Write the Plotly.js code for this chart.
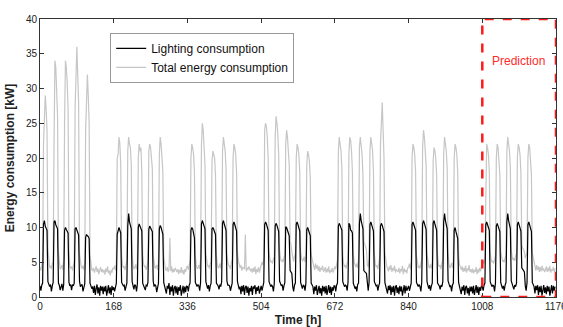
<!DOCTYPE html>
<html>
<head>
<meta charset="utf-8">
<script src="https://cdn.plot.ly/plotly-3.0.1.min.js"></script>
<style>html,body{margin:0;padding:0;background:#fff;overflow:hidden;}#chart{width:563px;height:327px;}</style>
</head>
<body>
<div id="chart"></div>
<script>
// Sampling step of the series (hours between consecutive values)
const HOURS_PER_SAMPLE = 2;

// Total energy consumption [kW], one array per week (7 days x 12 samples)
const totalW1 = [
4.3,3.8,4.6,5.2,22,26,29,27,24,7,4.8,4.2,
4.5,4.0,4.8,5.0,22,34,33,30,26,6.5,4.6,4.0,
4.2,4.6,3.9,5.4,25,34,33,31,27,6.8,4.4,4.1,
4.4,3.8,4.5,5.1,27,33,36,32,28,6.2,4.7,4.3,
4.1,4.5,3.9,5.0,24,30,32,29,25,6.0,4.5,3.9,
3.8,4.2,3.5,3.9,4.4,3.6,4.1,3.3,3.9,4.3,3.6,4.0,
3.5,3.9,3.2,4.1,3.6,4.4,3.4,3.8,3.1,3.9,3.5,4.2];
const totalW2 = [
4.0,4.5,3.8,5.0,20,20.5,23,22,19,6.0,4.6,4.2,
4.4,3.9,4.6,5.2,21,23,22,21.5,19,6.3,4.5,4.0,
4.2,4.7,4.0,5.0,20,22,21,21.5,18,6.1,4.8,4.3,
4.5,3.9,4.4,5.3,21,22,21.5,20,18.5,6.0,4.4,4.1,
4.3,4.6,3.9,5.1,20.5,23,22,20.5,18,5.8,4.7,4.0,
3.8,4.3,3.6,4.0,8.5,3.7,4.4,3.5,4.0,3.6,4.2,3.7,
3.6,4.0,3.3,3.9,3.5,4.3,3.4,3.9,3.2,4.0,3.6,4.3];
const totalW3 = [
4.4,3.9,4.7,5.2,20,22,21.5,20.5,18,6.0,4.6,4.1,
4.2,4.6,4.0,5.4,22,25,24,22,19,6.2,4.9,4.4,
4.6,4.1,4.8,5.0,19.5,21,20.5,20,17.5,6.1,4.7,4.2,
4.3,4.8,4.1,5.3,21,23,22,21,18.5,6.3,5.0,4.5,
4.5,4.0,4.9,5.4,20,22,21.5,20.5,18,6.4,5.2,4.6,
4.2,4.6,3.8,4.3,4.1,4.0,9.0,3.7,4.2,3.9,4.4,3.8,
3.7,4.1,3.5,4.2,3.6,4.4,3.3,4.0,3.6,4.3,3.5,4.1];
const totalW4 = [
4.5,5.0,4.6,5.6,24,25,24.5,23,20,6.5,5.4,5.0,
5.2,4.8,5.5,5.8,23,26,25,23.5,20.5,6.8,5.6,5.1,
5.4,5.0,5.7,6.0,22,24,23,21.5,19,8.0,7.5,6.5,
5.5,5.1,5.8,6.2,20,22,21.5,20.5,18,6.5,5.6,5.2,
5.3,5.8,5.0,6.0,19,21,20.5,19.5,17,6.2,5.5,5.0,
4.5,3.9,4.8,4.1,4.6,3.8,4.4,3.6,4.2,3.9,4.5,3.7,
3.8,4.3,3.5,4.1,3.6,4.4,3.4,3.9,3.6,4.2,3.5,4.0];
const totalW5 = [
4.4,4.0,4.7,5.3,21,23,22,21,18.5,6.1,4.8,4.3,
4.6,4.1,4.9,5.2,20.5,23,22.5,21,18,6.3,5.0,4.5,
4.3,4.8,4.2,5.5,21.5,23,22,20.5,17.5,8.0,7.6,7.2,
6.8,4.6,4.3,5.4,21,23,22,21,18,6.2,4.8,4.4,
4.5,4.0,4.8,5.6,22,25,28,24,20,6.4,5.0,4.5,
4.1,3.7,4.4,3.9,4.6,3.6,4.2,3.8,4.5,3.5,4.0,3.7,
3.6,4.2,3.4,4.0,3.7,4.5,3.3,4.1,3.6,3.9,3.4,4.2];
const totalW6 = [
4.3,4.8,4.0,5.2,20,22,21.5,20.5,18,6.0,4.7,4.2,
4.5,4.1,4.8,5.4,21.5,24,23,21.5,19,6.2,4.9,4.3,
4.2,4.7,4.1,5.1,19.5,21.5,21,20,17.5,6.1,4.6,4.4,
4.6,4.0,4.9,5.3,20.5,23,22,21,18.5,6.3,4.8,4.2,
4.4,4.9,4.2,5.2,20,22,21.5,20.5,18,6.0,4.7,4.1,
3.9,4.4,3.6,4.2,3.7,4.5,3.5,4.1,3.8,4.6,3.6,4.0,
3.5,4.1,3.4,3.9,3.6,4.3,3.3,4.0,3.5,4.2,3.7,4.4];
const totalW7 = [
4.6,5.1,4.8,5.6,20,22,21.5,20.5,18,6.5,5.4,5.0,
5.2,4.8,5.5,5.9,20,22,21.5,20,17.5,6.6,5.5,5.1,
5.3,5.0,5.6,6.0,21,23,22,21,18.5,6.8,5.8,5.3,
5.6,5.2,5.9,6.2,20,22,21.5,20.5,18,7.5,7.0,6.8,
6.5,5.6,6.0,6.4,20,22,21.5,20,17.5,6.4,5.6,5.0,
4.2,3.8,4.6,3.9,4.4,3.6,4.3,3.7,4.5,3.8,4.1,3.6,
3.9,4.4,3.6,4.2,3.7,4.5,3.5,4.0,3.8,4.3,3.6,4.1];

// Lighting consumption [kW], one array per week (7 days x 12 samples)
const lightW1 = [
1.6,0.9,1.7,2.0,10.5,11.0,10.2,10.0,9.6,2.2,1.8,1.5,
1.8,0.8,1.6,2.1,10.8,11.0,10.4,10.1,9.8,2.0,1.7,1.0,
1.7,1.9,0.9,1.8,9.6,10.0,9.7,9.5,9.2,2.1,1.6,1.8,
1.0,1.8,1.6,2.0,9.8,10.0,9.5,9.3,8.9,2.3,1.5,1.7,
1.8,0.8,1.7,1.9,8.6,9.0,8.8,8.7,8.4,2.0,1.6,1.2,
1.5,0.6,1.6,0.3,1.2,1.8,0.5,1.4,0.2,1.6,0.9,1.5,
0.4,1.5,0.8,1.6,0.2,1.3,1.7,0.5,1.4,0.3,1.6,1.0];
const lightW2 = [
1.4,0.8,1.6,2.0,9.0,9.8,10.0,9.6,9.2,2.1,1.7,1.6,
1.7,0.9,1.5,2.0,10.2,12.0,10.8,10.3,9.8,2.2,1.6,1.1,
1.8,1.6,0.8,1.9,10.0,10.5,10.2,9.9,9.5,2.0,1.7,1.5,
1.0,1.7,1.6,2.1,9.7,10.2,10.0,9.8,9.4,2.3,1.5,1.8,
1.6,0.7,1.8,2.0,9.8,10.3,10.0,9.6,9.0,2.1,1.6,1.0,
0.5,1.6,1.2,2.0,0.3,1.5,0.8,1.7,0.2,1.3,1.6,0.5,
1.5,0.3,1.4,0.9,1.7,0.2,1.2,1.6,0.5,1.5,0.7,1.6];
const lightW3 = [
1.5,0.8,1.7,2.0,9.6,10.0,9.8,9.0,8.5,2.1,1.7,1.5,
1.8,1.6,0.9,2.1,10.5,11.0,10.6,10.2,9.8,2.2,1.6,1.2,
1.7,0.8,1.6,2.0,9.8,10.0,9.7,9.4,9.0,2.0,1.8,1.6,
1.1,1.8,1.5,2.2,10.6,11.0,10.5,10.0,9.6,2.3,1.7,1.7,
1.6,0.9,1.8,2.0,10.4,10.8,10.4,10.0,9.5,2.2,1.6,1.1,
1.5,0.4,1.6,0.8,1.7,0.3,1.4,1.6,0.6,1.5,0.2,1.3,
0.8,1.6,0.3,1.5,1.2,1.7,0.4,1.4,0.9,1.6,0.5,1.4];
const lightW4 = [
1.6,0.9,1.7,2.1,10.4,10.8,10.5,10.0,9.6,2.2,1.8,1.5,
1.7,1.5,0.8,2.0,10.2,10.6,10.3,9.8,9.4,2.3,1.7,1.6,
1.8,0.9,1.6,2.1,10.1,10.0,9.6,9.2,8.8,3.8,3.6,3.4,
1.5,0.8,1.7,2.0,10.5,10.8,10.4,10.0,9.5,2.1,1.6,1.2,
1.7,1.6,0.9,2.0,9.7,10.0,9.6,9.2,8.8,2.0,1.7,1.5,
0.4,1.5,0.9,1.7,0.3,1.4,1.6,0.5,1.3,0.2,1.6,0.8,
1.5,0.5,1.6,0.3,1.2,1.7,0.6,1.5,0.3,1.4,0.9,1.6];
const lightW5 = [
1.6,0.8,1.7,2.0,10.2,10.6,10.3,10.0,9.6,2.2,1.7,1.5,
1.7,1.6,0.9,2.1,10.6,10.4,9.6,9.5,9.2,2.0,1.6,1.2,
1.5,0.8,1.8,2.0,10.5,12.0,11.0,10.5,9.8,3.8,3.6,3.5,
3.4,1.6,0.9,2.1,10.4,10.8,10.4,10.0,9.5,2.2,1.8,1.6,
1.7,0.9,1.6,2.0,10.2,10.6,10.3,9.9,9.4,2.1,1.6,1.1,
0.5,1.6,1.0,1.7,0.3,1.5,0.7,1.6,0.2,1.4,1.7,0.6,
1.4,0.4,1.6,0.8,1.5,0.2,1.3,1.7,0.5,1.6,0.9,1.5];
const lightW6 = [
1.6,0.9,1.7,2.0,10.4,10.8,10.4,10.0,9.6,2.1,1.7,1.5,
1.8,1.5,0.8,2.1,10.5,11.0,10.6,10.2,9.7,2.2,1.6,1.2,
1.7,0.9,1.6,2.0,10.6,11.0,10.5,10.1,9.6,2.0,1.8,1.6,
1.1,1.7,1.5,2.2,10.8,12.0,11.0,10.4,9.8,2.3,1.7,1.5,
1.6,0.8,1.7,2.0,9.6,10.0,9.4,9.0,8.4,2.1,1.6,1.0,
0.4,1.5,0.9,1.7,0.3,1.4,1.6,0.5,1.3,0.2,1.5,0.8,
1.5,0.5,1.6,0.3,1.2,1.7,0.6,1.5,0.3,1.4,0.9,1.6];
const lightW7 = [
1.5,0.9,1.7,2.0,10.4,10.8,10.4,10.0,9.6,2.2,1.7,1.5,
1.7,1.6,0.8,2.0,10.2,10.6,10.2,9.8,9.4,2.1,1.6,1.2,
1.6,0.9,1.7,2.1,10.8,12.0,11.0,10.4,9.8,2.3,1.8,1.6,
1.1,1.7,1.5,2.0,10.4,10.8,10.4,10.0,9.5,4.2,4.0,3.8,
3.6,1.6,0.9,2.1,10.4,10.8,10.3,9.9,9.4,2.1,1.7,1.5,
0.5,1.6,1.0,1.7,0.3,1.5,0.7,1.6,0.2,1.4,1.7,0.6,
1.4,0.4,1.6,0.8,1.5,0.2,1.3,1.7,0.5,1.6,0.9,1.5];

const xTickVals = [0, 168, 336, 504, 672, 840, 1008, 1176];
const xTickText = ['0', '168', '336', '504', '672', '840', '1008', '1176'];
const yTickVals = [0, 5, 10, 15, 20, 25, 30, 35, 40];
const predictionStart = 1008;
const predictionEnd = 1176;

const total = [].concat(totalW1, totalW2, totalW3, totalW4, totalW5, totalW6, totalW7);
const lighting = [].concat(lightW1, lightW2, lightW3, lightW4, lightW5, lightW6, lightW7);
const hours = total.map((_, i) => i * HOURS_PER_SAMPLE);

const FONT = 'Liberation Sans, Arial, sans-serif';
const lastTick = xTickVals[xTickVals.length - 1];

const traces = [
  {x: hours, y: total, type: 'scatter', mode: 'lines', name: 'Total energy consumption',
   line: {color: '#c6c6c6', width: 1.2}, legendrank: 2, hoverinfo: 'skip'},
  {x: hours, y: lighting, type: 'scatter', mode: 'lines', name: 'Lighting consumption',
   line: {color: '#000000', width: 1.2}, legendrank: 1, hoverinfo: 'skip'}
];

const layout = {
  width: 563, height: 327,
  margin: {l: 40, r: 7, t: 19, b: 30},
  paper_bgcolor: '#ffffff', plot_bgcolor: '#ffffff',
  font: {family: FONT, size: 11, color: '#222'},
  showlegend: true,
  legend: {x: 0.136, y: 0.95, xanchor: 'left', yanchor: 'top',
    bgcolor: '#ffffff', bordercolor: '#999999', borderwidth: 1,
    font: {family: FONT, size: 12, color: '#111'}, tracegroupgap: 0},
  xaxis: {range: [0, 1176], tickmode: 'array', tickvals: xTickVals, ticktext: xTickText,
    ticks: 'inside', ticklen: 4, tickcolor: '#333', showline: true, linecolor: '#333', linewidth: 1,
    mirror: 'ticks', showgrid: false, zeroline: false,
    tickfont: {family: FONT, size: 10, color: '#222'},
    title: {text: '<b>Time [h]</b>', font: {family: FONT, size: 12, color: '#222'}, standoff: 4}},
  yaxis: {range: [0, 40], tickmode: 'array', tickvals: yTickVals,
    ticks: 'inside', ticklen: 4, tickcolor: '#333', showline: true, linecolor: '#333', linewidth: 1,
    mirror: 'ticks', showgrid: false, zeroline: false,
    tickfont: {family: FONT, size: 10, color: '#222'},
    title: {text: '<b>Energy consumption [kW]</b>', font: {family: FONT, size: 12, color: '#222'}, standoff: 8}},
  shapes: [{type: 'rect', xref: 'x', yref: 'y', x0: predictionStart, x1: predictionEnd, y0: 0, y1: 40,
    line: {color: '#ff1a1a', width: 2.5, dash: 'dash'}, fillcolor: 'rgba(0,0,0,0)'}],
  annotations: [
    {x: 1090, y: 34, xref: 'x', yref: 'y', text: 'Prediction', showarrow: false,
     font: {family: FONT, size: 12, color: '#ff2a2a'}},
    {x: lastTick, y: 0, xref: 'x', yref: 'paper', yanchor: 'top', yshift: -2, text: String(lastTick),
     showarrow: false, font: {family: FONT, size: 10, color: '#222'}}
  ]
};

Plotly.newPlot('chart', traces, layout, {staticPlot: true, displayModeBar: false});
</script>
</body>
</html>
